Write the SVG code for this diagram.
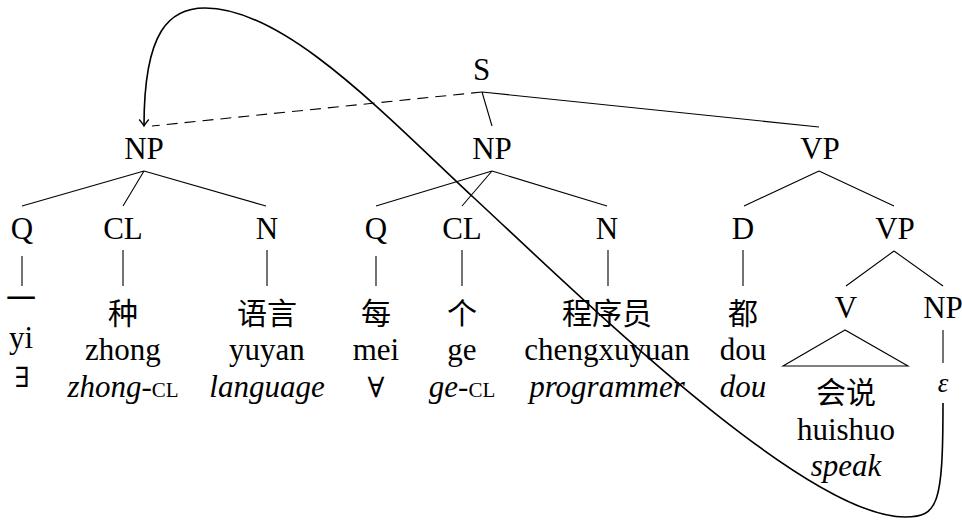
<svg xmlns="http://www.w3.org/2000/svg" width="962" height="521" viewBox="0 0 962 521">
<defs>
<style>
.t{font-family:'Liberation Serif','Times New Roman',serif;font-size:31px;text-anchor:middle;fill:#000}
.i{font-style:italic}
.sc{font-style:normal;font-size:21px}
.zh{font-family:'Noto Sans CJK SC','Noto Sans CJK TC',sans-serif;font-size:30px;text-anchor:middle;fill:#000}
.m{font-family:'DejaVu Serif',serif;font-size:28px;text-anchor:middle;fill:#000}
.e{stroke:#000;stroke-width:1.1;fill:none}
.d{stroke-dasharray:11 7}
.arc{stroke:#000;stroke-width:1.6;fill:none;marker-end:url(#ah)}
</style>
<marker id="ah" markerUnits="userSpaceOnUse" viewBox="-10 -7 12 14" refX="0" refY="0" markerWidth="12" markerHeight="14" orient="auto">
<path d="M-6.5,-4.8 Q-2,-1 0,0 Q-2,1 -6.5,4.8" fill="none" stroke="#000" stroke-width="1.3"/>
</marker>
</defs>
<rect width="962" height="521" fill="#fff"/>

<g id="connectors">
<path class="e" d="M482,92 L492,126 M482,92 L819,127"/>
<path class="e d" d="M482,92 L152,126"/>
<path class="e" d="M144,171 L22,206 M144,171 L123,206 M144,171 L266,206"/>
<path class="e" d="M492,171 L376,206 M492,171 L462,206 M492,171 L607,206"/>
<path class="e" d="M819,171 L744,206 M819,171 L894,206"/>
<path class="e" d="M894,251 L846,286 M894,251 L943,286"/>
<path class="e" d="M22,256 V286 M123,250 V286 M267,250 V286 M376,256 V286 M462,250 V286 M608,250 V286 M743,250 V286"/>
<path class="e" d="M943,330 V363"/>
<path class="e" d="M845,330 L783,366 L908,366 Z"/>
<path class="arc" d="M943,403 C943,505 938,517 905,517 C805,517 583,299 473,197 C385,115 285,8 205,8 C170,8 144,30 144,126"/>
</g>

<g id="node-S"><text class="t" x="481.5" y="80">S</text></g>
<g id="node-NP1"><text class="t" x="144" y="159">NP</text></g>
<g id="node-NP2"><text class="t" x="492" y="159">NP</text></g>
<g id="node-VP1"><text class="t" x="820" y="159">VP</text></g>

<g id="node-Q1"><text class="t" x="22" y="239">Q</text></g>
<g id="node-CL1"><text class="t" x="123" y="239">CL</text></g>
<g id="node-N1"><text class="t" x="267" y="239">N</text></g>
<g id="node-Q2"><text class="t" x="376" y="239">Q</text></g>
<g id="node-CL2"><text class="t" x="462" y="239">CL</text></g>
<g id="node-N2"><text class="t" x="607" y="239">N</text></g>
<g id="node-D"><text class="t" x="743" y="239">D</text></g>
<g id="node-VP2"><text class="t" x="895" y="239">VP</text></g>
<g id="node-V"><text class="t" x="846" y="318">V</text></g>
<g id="node-NP3"><text class="t" x="943" y="318">NP</text></g>

<g id="leaf-yi">
<text class="zh" x="21" y="309">一</text>
<text class="t" x="21" y="348">yi</text>
<text class="m" x="22" y="387">∃</text>
</g>
<g id="leaf-zhong">
<text class="zh" x="123" y="324">种</text>
<text class="t" x="123" y="360">zhong</text>
<text class="t" x="123" y="397"><tspan class="i">zhong-</tspan><tspan class="sc">CL</tspan></text>
</g>
<g id="leaf-yuyan">
<text class="zh" x="267" y="324">语言</text>
<text class="t" x="267" y="360">yuyan</text>
<text class="t i" x="267" y="397">language</text>
</g>
<g id="leaf-mei">
<text class="zh" x="376" y="324">每</text>
<text class="t" x="376" y="360">mei</text>
<text class="m" x="376" y="397">∀</text>
</g>
<g id="leaf-ge">
<text class="zh" x="462" y="324">个</text>
<text class="t" x="462" y="360">ge</text>
<text class="t" x="462" y="397"><tspan class="i">ge-</tspan><tspan class="sc">CL</tspan></text>
</g>
<g id="leaf-chengxuyuan">
<text class="zh" x="607" y="324">程序员</text>
<text class="t" x="607" y="360">chengxuyuan</text>
<text class="t i" x="607" y="397">programmer</text>
</g>
<g id="leaf-dou">
<text class="zh" x="743" y="324">都</text>
<text class="t" x="743" y="360">dou</text>
<text class="t i" x="743" y="397">dou</text>
</g>
<g id="leaf-huishuo">
<text class="zh" x="846" y="403">会说</text>
<text class="t" x="846" y="440">huishuo</text>
<text class="t i" x="846" y="476">speak</text>
</g>
<g id="leaf-epsilon">
<text class="t i" x="943" y="392" style="font-size:27px">ε</text>
</g>
</svg>
